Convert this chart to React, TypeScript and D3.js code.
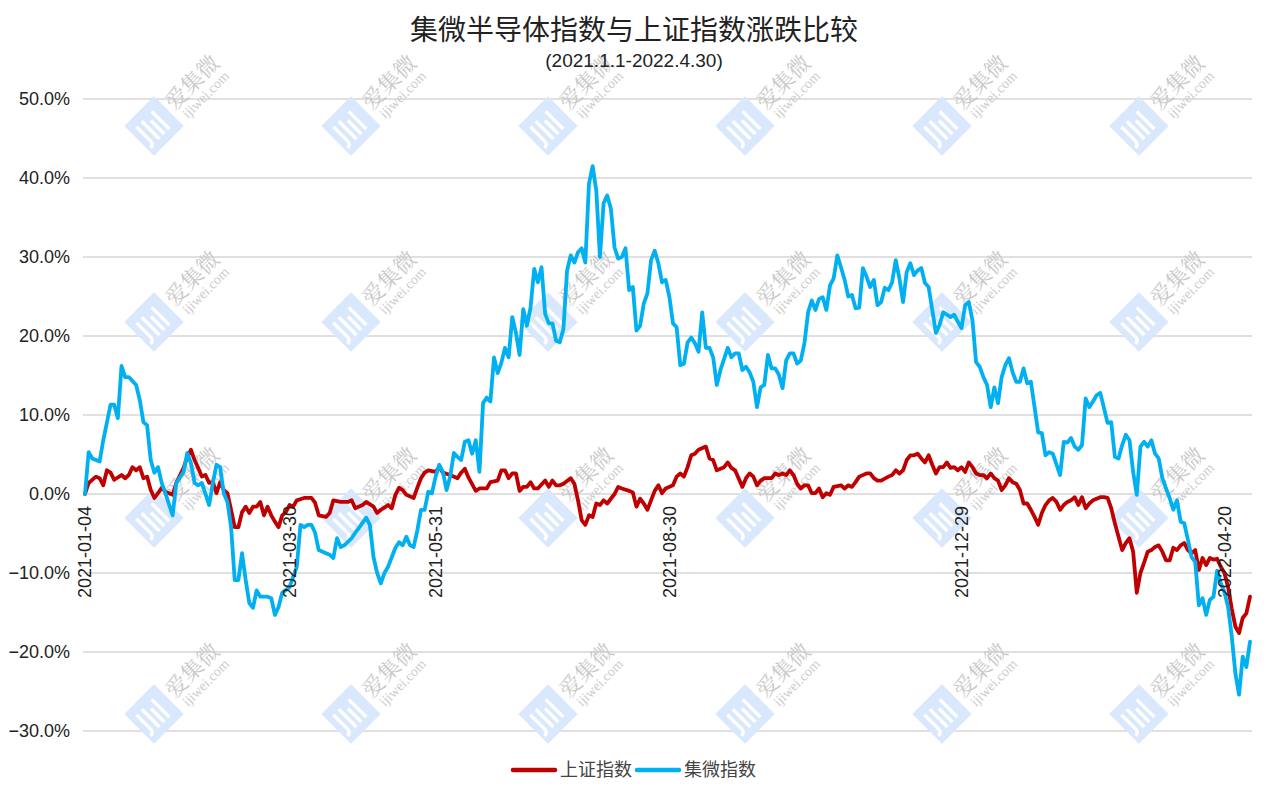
import React from "react";
import * as d3 from "d3";

// ---- data -----------------------------------------------------------------
// x = trading-day index counted from 2021-01-04, y = cumulative change in %
const shanghaiData: [number, number][] = [
  [0, 0], [1, 1.4], [3, 2.2], [4, 2.0], [5, 1.1], [6, 3.0], [7, 2.7], [8, 1.8], [10, 2.4], [11, 2.0],
  [12, 2.4], [13, 3.4], [14, 3.0], [15, 3.4], [16, 2.0], [17, 2.2], [18, 0.5], [19, -0.5], [20, 0.1], [21, 0.8],
  [22, 0.3], [24, -0.1], [25, 1.4], [27, 3.3], [28, 4.7], [29, 5.6], [30, 4.3], [31, 3.3], [32, 2.2], [33, 2.4],
  [34, 1.4], [35, 1.5], [36, 0.1], [37, 1.5], [38, 0.5], [39, 0.1], [40, -2.0], [41, -4.2], [42, -4.2], [43, -2.3],
  [44, -1.6], [45, -2.4], [46, -1.6], [47, -1.6], [48, -1.0], [49, -2.7], [50, -1.6], [51, -2.7], [52, -3.5], [53, -4.2],
  [54, -2.7], [55, -2.3], [56, -1.4], [57, -1.6], [58, -0.8], [60, -0.5], [62, -0.5], [63, -1.1], [64, -2.7], [66, -2.9],
  [67, -2.4], [68, -0.8], [70, -1.0], [72, -1.0], [73, -0.8], [74, -1.8], [76, -1.4], [77, -1.0], [79, -1.6], [80, -2.4],
  [81, -2.0], [83, -1.4], [84, -1.8], [85, -0.1], [86, 0.8], [87, 0.5], [88, -0.1], [90, -0.5], [91, 0.8], [92, 2.0],
  [93, 2.7], [94, 3.0], [96, 2.8], [97, 3.4], [98, 2.7], [100, 2.4], [102, 2.0], [103, 2.7], [104, 3.2], [105, 2.1],
  [107, 0.4], [108, 0.7], [110, 0.7], [111, 1.5], [113, 1.7], [114, 3.0], [115, 3.0], [116, 2.0], [117, 2.6], [118, 2.6],
  [119, 0.4], [120, 0.9], [121, 0.9], [122, 1.5], [123, 0.7], [124, 0.7], [126, 1.7], [127, 0.9], [128, 1.7], [129, 1.1],
  [130, 1.1], [131, 1.3], [133, 2.0], [134, 1.3], [135, -0.8], [136, -3.3], [137, -3.9], [138, -2.7], [139, -2.9], [140, -1.2],
  [141, -1.4], [142, -0.8], [143, -1.2], [144, -0.6], [145, 0.0], [146, 0.9], [147, 0.7], [149, 0.4], [150, 0.2], [151, -1.6],
  [152, -0.6], [153, -1.2], [154, -2.0], [155, -0.8], [156, 0.4], [157, 1.1], [158, 0.1], [159, 0.7], [161, 1.1], [162, 2.2],
  [163, 2.6], [164, 2.2], [165, 3.4], [166, 4.9], [167, 5.1], [168, 5.6], [170, 6.0], [171, 4.5], [172, 4.3], [173, 3.0],
  [175, 3.4], [176, 4.0], [177, 3.3], [178, 3.0], [180, 0.9], [181, 2.0], [182, 2.6], [183, 2.2], [184, 1.1], [185, 1.7],
  [186, 2.0], [188, 2.0], [189, 2.6], [190, 2.4], [191, 2.6], [192, 2.4], [193, 3.0], [194, 2.4], [195, 1.3], [196, 0.7],
  [197, 1.1], [198, 1.1], [199, 0.1], [200, 0.1], [201, 0.7], [202, -0.4], [203, 0.1], [204, -0.1], [205, 0.9], [207, 1.1],
  [208, 0.7], [209, 1.1], [210, 0.9], [211, 1.5], [212, 2.2], [214, 2.6], [215, 2.6], [216, 2.0], [217, 1.7], [218, 1.7],
  [220, 2.2], [221, 2.4], [222, 3.0], [223, 2.6], [224, 3.0], [225, 4.3], [226, 4.9], [227, 4.9], [228, 5.1], [229, 4.5],
  [230, 4.0], [231, 4.9], [232, 3.7], [233, 2.6], [234, 3.4], [235, 3.4], [236, 4.0], [237, 3.3], [238, 3.4], [239, 3.0],
  [240, 3.4], [241, 2.8], [242, 4.0], [243, 3.4], [244, 2.6], [245, 2.4], [246, 2.4], [247, 2.0], [248, 2.6], [249, 2.0],
  [250, 1.7], [251, 0.5], [252, 1.1], [253, 2.0], [254, 1.5], [255, 1.3], [256, 0.5], [257, -1.2], [258, -1.2], [259, -2.0],
  [260, -2.9], [261, -3.9], [262, -2.4], [263, -1.4], [264, -0.8], [265, -0.5], [266, -1.0], [267, -2.0], [268, -1.4], [269, -1.0],
  [270, -0.8], [271, -0.4], [272, -1.4], [273, -0.4], [274, -1.8], [275, -1.2], [276, -0.8], [278, -0.4], [279, -0.4], [280, -0.5],
  [281, -1.8], [282, -3.7], [283, -5.4], [284, -7.1], [285, -6.2], [286, -5.6], [287, -7.3], [288, -12.5], [289, -10.0], [290, -8.7],
  [291, -7.3], [292, -7.1], [293, -6.7], [294, -6.5], [295, -7.3], [296, -8.4], [297, -8.4], [298, -6.8], [299, -7.1], [300, -6.5],
  [301, -6.2], [302, -7.1], [303, -7.5], [304, -7.1], [305, -9.6], [306, -8.1], [307, -9.0], [308, -8.1], [309, -8.3], [310, -8.2],
  [311, -9.2], [312, -10.0], [313, -11.8], [314, -14.5], [315, -16.8], [316, -17.6], [317, -15.7], [318, -15.1], [319, -13.0],
];

const jiweiData: [number, number][] = [
  [0, 0], [1, 5.3], [2, 4.5], [4, 4.1], [5, 6.8], [7, 11.3], [8, 11.3], [9, 9.6], [10, 16.2], [11, 14.8],
  [12, 14.8], [14, 13.8], [15, 11.9], [16, 9.1], [17, 8.7], [18, 4.3], [19, 2.7], [20, 3.4], [21, 1.4], [22, 0.1],
  [24, -2.7], [25, 1.4], [27, 2.8], [28, 5.2], [29, 3.9], [30, 1.4], [31, 1.1], [32, 1.4], [34, -1.4], [35, 1.4],
  [36, 3.7], [37, 3.4], [38, 0.1], [39, -1.0], [40, -4.2], [41, -10.9], [42, -10.9], [43, -7.5], [44, -10.9], [45, -13.8],
  [46, -14.4], [47, -12.2], [48, -13.0], [50, -13.0], [51, -13.2], [52, -15.3], [53, -14.3], [54, -12.5], [56, -11.8], [57, -10.5],
  [58, -9.2], [59, -3.9], [60, -4.2], [61, -3.9], [62, -3.9], [63, -4.9], [64, -7.1], [66, -7.5], [67, -7.7], [68, -8.1],
  [69, -5.6], [70, -6.7], [71, -6.5], [73, -5.6], [74, -4.9], [75, -4.3], [77, -3.0], [78, -3.9], [79, -8.0], [80, -10.0],
  [81, -11.3], [82, -10.0], [83, -9.2], [85, -6.8], [86, -6.1], [87, -6.5], [88, -5.4], [89, -6.5], [90, -6.7], [91, -4.6],
  [92, -2.0], [93, -2.0], [94, 0.3], [95, 0.1], [96, 2.2], [97, 3.7], [98, 2.8], [99, 0.5], [100, 2.2], [101, 5.2],
  [102, 4.7], [103, 4.3], [104, 6.6], [105, 6.8], [106, 5.1], [107, 6.8], [108, 2.8], [109, 11.5], [110, 12.2], [111, 11.7],
  [112, 17.3], [113, 15.3], [114, 16.6], [115, 18.5], [116, 17.3], [117, 22.4], [118, 20.4], [119, 17.6], [120, 23.4], [121, 21.3],
  [122, 23.6], [123, 28.5], [124, 26.8], [125, 28.7], [126, 22.8], [127, 21.6], [128, 21.6], [129, 19.4], [130, 19.2], [131, 20.9],
  [132, 28.3], [133, 30.2], [134, 29.3], [135, 30.6], [136, 31.1], [137, 29.3], [138, 39.3], [139, 41.5], [140, 38.4], [141, 30.0],
  [142, 36.8], [143, 37.8], [144, 36.1], [145, 31.2], [146, 29.8], [147, 30.0], [148, 31.1], [149, 25.8], [150, 26.2], [151, 20.7],
  [152, 21.3], [153, 24.1], [154, 25.4], [155, 29.6], [156, 30.8], [157, 29.2], [158, 26.8], [159, 27.1], [160, 25.0], [161, 21.6],
  [162, 21.1], [163, 16.3], [164, 16.5], [165, 19.2], [166, 19.8], [167, 19.1], [168, 18.0], [169, 23.0], [170, 18.5], [171, 18.5],
  [172, 17.3], [173, 13.8], [174, 15.7], [176, 18.5], [177, 17.3], [178, 17.8], [179, 17.8], [180, 15.7], [181, 16.1], [182, 15.4],
  [183, 14.2], [184, 11.0], [185, 13.5], [186, 13.8], [187, 17.6], [188, 15.9], [189, 15.9], [190, 15.1], [191, 13.4], [192, 16.9],
  [193, 17.8], [194, 17.8], [195, 16.5], [196, 16.9], [197, 19.1], [198, 23.0], [199, 24.5], [200, 23.3], [201, 24.7], [202, 24.9],
  [203, 23.3], [204, 26.4], [205, 27.3], [206, 30.2], [207, 28.7], [208, 27.1], [209, 25.0], [210, 25.2], [211, 23.5], [212, 23.6],
  [213, 28.6], [214, 27.5], [215, 26.2], [216, 27.1], [217, 23.9], [218, 24.3], [219, 26.1], [220, 25.8], [221, 26.8], [222, 29.6],
  [223, 27.3], [224, 24.3], [225, 28.1], [226, 29.2], [227, 27.7], [228, 28.3], [229, 28.6], [230, 26.7], [231, 26.2], [232, 23.3],
  [233, 20.4], [234, 21.4], [235, 23.0], [236, 22.7], [237, 22.4], [238, 22.7], [239, 21.8], [240, 21.0], [241, 23.9], [242, 24.3],
  [243, 22.0], [244, 16.7], [245, 16.1], [246, 14.8], [247, 13.8], [248, 11.0], [249, 13.5], [250, 11.5], [251, 14.8], [252, 16.3],
  [253, 17.2], [254, 15.4], [255, 14.2], [256, 14.2], [257, 15.9], [258, 14.0], [259, 14.2], [260, 11.0], [261, 7.8], [262, 7.7],
  [263, 4.9], [264, 5.3], [265, 5.1], [267, 2.4], [268, 6.6], [269, 6.5], [270, 7.1], [271, 6.0], [272, 5.6], [273, 6.2],
  [274, 12.1], [275, 11.0], [276, 11.7], [277, 12.5], [278, 12.8], [279, 10.9], [280, 9.0], [281, 9.1], [282, 4.7], [283, 4.5],
  [284, 6.2], [285, 7.5], [286, 6.8], [287, 2.8], [288, -0.1], [289, 6.0], [290, 6.6], [291, 6.0], [292, 6.8], [293, 5.1],
  [294, 4.5], [295, 2.0], [296, 0.7], [297, -0.5], [298, -2.0], [299, -0.8], [300, -3.5], [301, -3.7], [302, -5.8], [303, -8.0],
  [304, -8.6], [305, -14.1], [306, -13.2], [307, -15.3], [308, -13.4], [309, -13.0], [310, -9.7], [311, -11.3], [312, -12.4], [313, -14.3],
  [314, -18.0], [315, -22.7], [316, -25.4], [317, -20.6], [318, -21.9], [319, -18.7],
];

const xTickDays = [0, 56, 96, 160, 240, 312];
const xTickLabels = ["2021-01-04", "2021-03-30", "2021-05-31", "2021-08-30", "2021-12-29", "2022-04-20"];
const yTicks = [-30, -20, -10, 0, 10, 20, 30, 40, 50];

const seriesNames = ["上证指数", "集微指数"];
const seriesColors = ["#C00000", "#00B0F0"];

const titleText = "集微半导体指数与上证指数涨跌比较";
const subtitleText = "(2021.1.1-2022.4.30)";

// ---- layout ---------------------------------------------------------------
const W = 1269;
const H = 793;
const LATIN = "'Liberation Sans', Arial, Helvetica, sans-serif";
const CJK = "'Noto Sans CJK SC', 'Liberation Sans', sans-serif";
const CJK_SERIF = "'Noto Serif CJK SC', 'Noto Sans CJK SC', serif";

function Watermark({ cx, cy }: { cx: number; cy: number }) {
  return (
    <g transform={`translate(${cx},${cy}) rotate(-45)`}>
      <rect x={-21} y={-21} width={42} height={42} fill="#d9e8fc" />
      <path d="M-13,-12 L-13,8 Q-13,13 -18,13" stroke="#fff" strokeWidth={3.4} fill="none" />
      <rect x={-7} y={-12} width={3.4} height={25} fill="#fff" />
      <rect x={0} y={-6} width={3.4} height={19} fill="#fff" />
      <rect x={7} y={-12} width={3.4} height={25} fill="#fff" />
      <text x={25} y={4} fontFamily={CJK_SERIF} fontSize={22} fill="#c8c8c8">爱集微</text>
      <text x={29} y={19} fontFamily="'Liberation Serif', 'DejaVu Serif', serif" fontSize={14} fill="#cccccc">ijiwei.com</text>
    </g>
  );
}

export default function App() {
  const x = d3.scaleLinear().domain([0, 319]).range([85, 1250]);
  const y = d3.scaleLinear().domain([-30, 50]).range([731, 99]);

  const line = d3
    .line<[number, number]>()
    .x((d) => x(d[0]))
    .y((d) => y(d[1]));

  const wmCols = [154, 351, 548, 745, 942, 1139];
  const wmRows = [126, 322, 518, 714];

  const legendX = [513, 637];

  return (
    <svg
      width={W}
      height={H}
      viewBox={`0 0 ${W} ${H}`}
      style={{ position: "absolute", left: 0, top: 0, background: "#fff" }}
    >
      <rect x={0} y={0} width={W} height={H} fill="#fff" />

      {/* gridlines */}
      {yTicks.map((t) => (
        <line key={t} x1={83} x2={1252} y1={y(t)} y2={y(t)} stroke="#d6d6d6" strokeWidth={1.4} />
      ))}

      {/* watermarks */}
      {wmRows.map((r) => wmCols.map((c) => <Watermark key={`${r}-${c}`} cx={c} cy={r} />))}

      {/* y labels */}
      {yTicks.map((t) => (
        <text
          key={t}
          x={70}
          y={y(t)}
          dy="0.36em"
          textAnchor="end"
          fontFamily={LATIN}
          fontSize={18}
          fill="#222"
        >
          {d3.format(".1f")(t)}%
        </text>
      ))}

      {/* series */}
      <path d={line(shanghaiData) || ""} fill="none" stroke={seriesColors[0]} strokeWidth={3.8} strokeLinejoin="round" strokeLinecap="round" />
      <path d={line(jiweiData) || ""} fill="none" stroke={seriesColors[1]} strokeWidth={3.8} strokeLinejoin="round" strokeLinecap="round" />

      {/* x labels */}
      {xTickDays.map((d, i) => (
        <text
          key={d}
          transform={`translate(${x(d)},${y(0) + 12}) rotate(-90)`}
          dy="0.36em"
          textAnchor="end"
          fontFamily={LATIN}
          fontSize={18}
          fill="#222"
        >
          {xTickLabels[i]}
        </text>
      ))}

      {/* title */}
      <text x={634} y={40} textAnchor="middle" fontFamily={CJK} fontSize={28} fill="#222">
        {titleText}
      </text>
      <text x={634} y={67} textAnchor="middle" fontFamily={LATIN} fontSize={19} fill="#222">
        {subtitleText}
      </text>

      {/* legend */}
      {seriesNames.map((n, i) => (
        <g key={n}>
          <line x1={legendX[i]} x2={legendX[i] + 42} y1={770} y2={770} stroke={seriesColors[i]} strokeWidth={4.5} strokeLinecap="round" />
          <text x={legendX[i] + 47} y={770} dy="0.36em" fontFamily={CJK} fontSize={18} fill="#444">
            {n}
          </text>
        </g>
      ))}
    </svg>
  );
}
